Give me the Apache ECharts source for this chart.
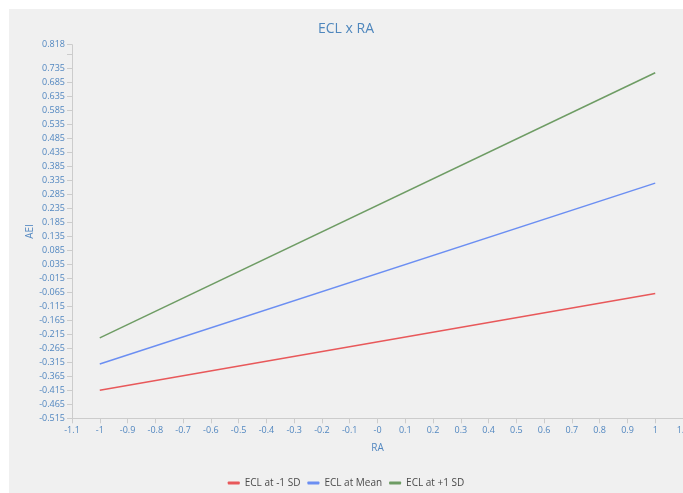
<!DOCTYPE html>
<html>
<head>
<meta charset="utf-8">
<script src="https://cdn.jsdelivr.net/npm/echarts@6/dist/echarts.min.js"></script>
<style>
html,body{margin:0;padding:0;background:#fff;width:683px;height:493px;overflow:hidden;}
#c{position:absolute;left:9px;top:9px;width:674px;height:484px;}
</style>
</head>
<body>
<div id="c"></div>
<script>
const xPoints = [-1, 1];
const seriesNames = ['ECL at -1 SD', 'ECL at Mean', 'ECL at +1 SD'];
const lowSD = [-0.415, -0.070];
const meanSD = [-0.3215, 0.324];
const highSD = [-0.228, 0.718];
const colors = ['#e8585a', '#6b8ef2', '#6e9c64'];

const labelColor = '#5287c0';
const chart = echarts.init(document.getElementById('c'));
function pairs(ys){ return xPoints.map((x,i)=>[x, ys[i]]); }
const allSeries = [lowSD, meanSD, highSD].map((ys, i) => ({
  name: seriesNames[i],
  type: 'line',
  data: pairs(ys),
  showSymbol: false,
  symbol: 'none',
  lineStyle: {width: 1.5, color: colors[i]},
  itemStyle: {color: colors[i]}
}));
chart.setOption({
  animation: false,
  backgroundColor: '#f0f0f0',
  textStyle: {fontFamily: 'Open Sans'},
  title: {
    text: 'ECL x RA', left: 'center', top: 8,
    textStyle: {color: '#4f87bd', fontSize: 14, fontWeight: 'normal', fontFamily: 'Open Sans'}
  },
  legend: {
    bottom: 0, left: 'center',
    itemWidth: 12, itemHeight: 3, itemGap: 7,
    icon: 'roundRect',
    textStyle: {color: '#4a4a4a', fontSize: 10, fontFamily: 'Open Sans'},
    data: seriesNames
  },
  grid: {left: 63, right: 0, top: 35.7, bottom: 74.7, containLabel: false, outerBoundsMode: 'none'},
  xAxis: {
    type: 'value', min: -1.1, max: 1.1, interval: 0.1,
    name: 'RA', nameLocation: 'middle', nameGap: 25,
    nameTextStyle: {color: labelColor, fontSize: 10},
    axisLine: {show: true, onZero: false, lineStyle: {color: '#cccccc'}},
    axisTick: {show: true, length: 5, lineStyle: {color: '#cccccc'}},
    splitLine: {show: false},
    axisLabel: {
      color: labelColor, fontSize: 9, margin: 8,
      formatter: function(v){ if (Math.abs(v) < 1e-9) return '-0'; return String(Number(v.toFixed(1))); }
    }
  },
  yAxis: {
    type: 'value', min: -0.515, max: 0.818, interval: 0.05,
    name: 'AEI', nameLocation: 'middle', nameGap: 37, nameMoveOverlap: false,
    nameTextStyle: {color: labelColor, fontSize: 10},
    axisLine: {show: true, onZero: false, lineStyle: {color: '#cccccc'}},
    axisTick: {show: true, length: 5, lineStyle: {color: '#cccccc'}},
    splitLine: {show: false},
    axisLabel: {
      color: labelColor, fontSize: 9, margin: 7,
      formatter: function(v){ if (Math.abs(v - 0.785) < 1e-6) return ''; return v.toFixed(3); }
    }
  },
  series: allSeries
});
</script>
</body>
</html>
